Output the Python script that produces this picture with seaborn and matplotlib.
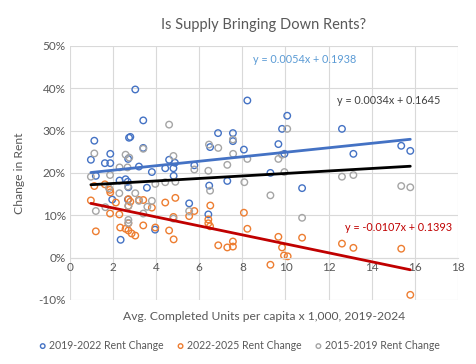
import matplotlib
matplotlib.use("Agg")
import matplotlib.pyplot as plt
import matplotlib.ticker as mticker
import seaborn as sns
import pandas as pd

# values (x = completed units per capita x 1,000, y = % rent change)
x_1922 = [0.97, 1.13, 1.2, 1.62, 1.87, 1.87, 1.96, 2.3, 2.35, 2.58, 2.68, 2.69, 2.7, 2.71, 2.74,
          2.8, 3.03, 3.2, 3.4, 3.4, 3.57, 3.8, 3.95, 4.42, 4.6, 4.8, 4.81, 4.87, 5.53, 5.77,
          6.42, 6.46, 6.5, 6.87, 7.3, 7.56, 7.56, 8.07, 8.23, 9.3, 9.67, 9.84, 9.95, 10.08,
          10.77, 12.62, 13.15, 15.37, 15.79]
y_1922 = [23.1, 27.6, 19.3, 22.3, 22.3, 24.5, 13.7, 18.2, 4.2, 18.5, 17.9, 13.7, 23.3, 16.6, 28.3,
          28.5, 39.7, 21.5, 32.4, 25.9, 16.5, 20.2, 6.6, 21.1, 23.1, 21.1, 19.3, 22.4, 12.8, 21.8,
          10.2, 17.0, 26.1, 29.4, 18.1, 29.4, 27.5, 25.5, 37.1, 20.0, 26.8, 30.4, 24.5, 33.5,
          16.4, 30.4, 24.5, 26.4, 25.2]

x_2225 = [0.97, 1.13, 1.2, 1.62, 1.85, 1.87, 1.86, 2.13, 2.29, 2.33, 2.58, 2.71, 2.71, 2.71, 2.71,
          2.8, 2.86, 3.03, 3.2, 3.4, 3.4, 3.8, 3.96, 4.42, 4.6, 4.8, 4.81, 4.89, 5.53, 5.77,
          6.42, 6.42, 6.5, 6.51, 6.88, 7.3, 7.56, 7.56, 8.07, 8.23, 9.3, 9.67, 9.84, 9.93,
          10.1, 10.77, 12.62, 13.15, 15.37, 15.79]
y_2225 = [13.5, 16.9, 6.2, 17.3, 16.0, 15.4, 10.4, 13.0, 10.2, 7.1, 6.8, 13.8, 12.2, 8.1, 6.4,
          13.2, 5.7, 5.2, 13.6, 13.6, 7.6, 11.8, 7.1, 13.0, 6.4, 9.6, 4.3, 14.1, 9.8, 11.0,
          9.0, 8.1, 7.4, 12.3, 2.9, 2.4, 2.6, 3.8, 10.6, 6.8, -1.7, 4.9, 2.4, 0.5,
          0.3, 4.7, 3.3, 2.3, 2.1, -8.8]

x_1519 = [0.97, 1.13, 1.2, 1.64, 1.81, 1.86, 2.29, 2.3, 2.58, 2.67, 2.69, 2.71, 2.71, 2.71, 2.75,
          3.03, 3.2, 3.4, 3.4, 3.59, 3.8, 3.96, 4.42, 4.6, 4.8, 4.8, 4.89, 5.53, 5.77, 6.42,
          6.45, 6.5, 6.88, 7.3, 7.56, 7.57, 8.09, 8.23, 9.3, 9.67, 9.84, 9.95, 10.08, 10.77,
          12.62, 13.15, 15.37, 15.79]
y_1519 = [19.1, 24.6, 11.0, 11.9, 16.4, 19.5, 15.2, 21.3, 24.3, 21.3, 16.8, 12.2, 8.9, 8.2, 23.6,
          15.2, 13.4, 25.7, 10.4, 12.0, 13.4, 17.4, 17.8, 31.4, 24.0, 9.2, 17.9, 11.0, 20.8, 20.5,
          26.7, 15.8, 25.9, 21.9, 27.9, 24.5, 17.8, 23.3, 14.7, 23.3, 24.3, 20.2, 30.4, 9.4,
          19.1, 19.5, 16.9, 16.6]

series = ["2019-2022 Rent Change", "2022-2025 Rent Change", "2015-2019 Rent Change"]
dot_colors = ["#4472C4", "#ED7D31", "#A5A5A5"]
trend_colors = ["#4472C4", "#C00000", "#000000"]
equations = ["y = 0.0054x + 0.1938", "y = -0.0107x + 0.1393", "y = 0.0034x + 0.1645"]
eq_colors = ["#5B9BD5", "#C00000", "#404040"]

df = pd.concat([
    pd.DataFrame({"units": x_1922, "rent": [v / 100 for v in y_1922], "series": series[0]}),
    pd.DataFrame({"units": x_2225, "rent": [v / 100 for v in y_2225], "series": series[1]}),
    pd.DataFrame({"units": x_1519, "rent": [v / 100 for v in y_1519], "series": series[2]}),
])

sns.set_style("whitegrid", {"grid.color": "#D9D9D9"})
plt.rcParams["font.family"] = ["Lato", "DejaVu Sans"]

fig = plt.figure(figsize=(4.76, 3.64), dpi=100)
ax = fig.add_axes([0.147, 0.176, 0.815, 0.698])

for name, col, tcol in zip(series, dot_colors, trend_colors):
    sub = df[df["series"] == name]
    sns.regplot(data=sub, x="units", y="rent", ax=ax, ci=None, color=col, label=name,
                scatter_kws=dict(facecolors="none", s=22, linewidths=1, alpha=1, zorder=2),
                line_kws=dict(color=tcol, lw=2, zorder=4))

ax.set_xlim(0, 18)
ax.set_ylim(-0.10, 0.50)
ax.set_xticks(range(0, 19, 2))
ax.set_yticks([-0.1, 0, 0.1, 0.2, 0.3, 0.4, 0.5])
ax.yaxis.set_major_formatter(mticker.FuncFormatter(lambda v, p: f"{v * 100:.0f}%".replace("\u2212", "-")))
for s in ["top", "right", "left"]:
    ax.spines[s].set_visible(False)
ax.spines["bottom"].set_position(("data", 0))
ax.spines["bottom"].set_color("#D9D9D9")
ax.tick_params(axis="both", colors="#595959", labelsize=8.5, length=0, pad=3)
ax.grid(True, color="#D9D9D9", lw=0.8)
ax.set_axisbelow(True)

ax.set_xlabel("Avg. Completed Units per capita x 1,000, 2019-2024", color="#595959", fontsize=8.7)
ax.xaxis.set_label_coords(0.5, -0.045)
ax.set_ylabel("Change in Rent", color="#595959", fontsize=8.7)
ax.yaxis.set_label_coords(-0.115, 0.5)
ax.set_title("Is Supply Bringing Down Rents?", color="#595959", fontsize=10.5, pad=12)

ax.text(8.5, 0.467, equations[0], color=eq_colors[0], fontsize=7.8, va="center")
ax.text(12.78, 0.07, equations[1], color=eq_colors[1], fontsize=7.8, va="center")
ax.text(12.4, 0.37, equations[2], color=eq_colors[2], fontsize=7.8, va="center")

handles, labels = ax.get_legend_handles_labels()
fig.legend(handles[:3], labels[:3], loc="lower center", bbox_to_anchor=(0.5, 0.01), ncol=3,
           frameon=False, fontsize=7.6, labelcolor="#595959", handletextpad=0.0,
           columnspacing=1.0, markerscale=0.7, handlelength=1.2)

fig.savefig("out.png", dpi=100)
